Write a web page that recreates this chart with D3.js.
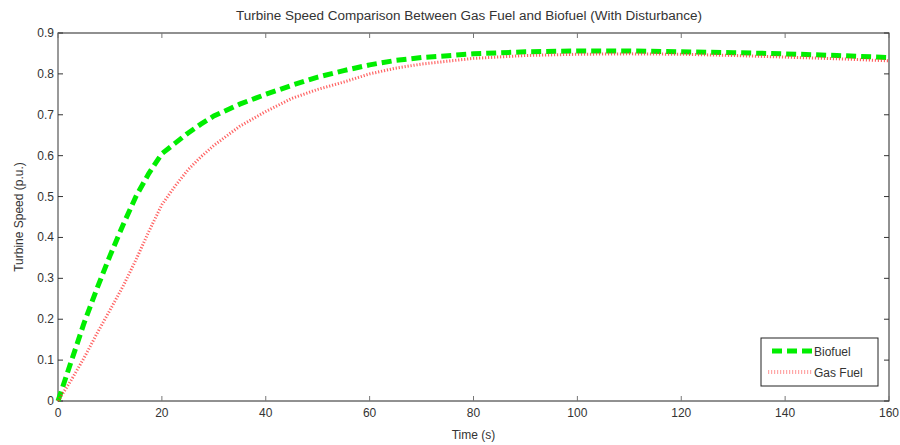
<!DOCTYPE html>
<html>
<head>
<meta charset="utf-8">
<script src="https://cdn.jsdelivr.net/npm/d3@7"></script>
<style>
  body { margin: 0; background: #fff; }
  text { font-family: "Liberation Sans", Arial, sans-serif; fill: #333; }
</style>
</head>
<body>
<div id="chart"></div>
<script>
// time points (s)
var time = [0, 2.5, 5, 7.5, 10, 12.5, 15, 17.5, 20, 22.5, 25, 27.5, 30, 35, 40, 45, 50, 55, 60, 65, 70, 80, 90, 100, 110, 120, 130, 140, 150, 160];
var biofuel = [0, 0.095, 0.19, 0.275, 0.355, 0.43, 0.5, 0.557, 0.605, 0.63, 0.655, 0.677, 0.697, 0.726, 0.75, 0.772, 0.792, 0.808, 0.822, 0.833, 0.84, 0.849, 0.854, 0.856, 0.856, 0.854, 0.852, 0.849, 0.845, 0.84];
var gasFuel = [0, 0.05, 0.105, 0.165, 0.222, 0.28, 0.345, 0.415, 0.48, 0.525, 0.565, 0.597, 0.625, 0.672, 0.708, 0.74, 0.762, 0.78, 0.8, 0.814, 0.824, 0.838, 0.845, 0.848, 0.849, 0.848, 0.845, 0.841, 0.837, 0.832];
var xTicks = [0, 20, 40, 60, 80, 100, 120, 140, 160];
var yTicks = [0, 0.1, 0.2, 0.3, 0.4, 0.5, 0.6, 0.7, 0.8, 0.9];

var width = 900, height = 445;
var margin = { top: 33, right: 11, bottom: 44, left: 58 };

var svg = d3.select("#chart").append("svg")
  .attr("width", width).attr("height", height);

var x = d3.scaleLinear().domain([0, 160]).range([margin.left, width - margin.right]);
var y = d3.scaleLinear().domain([0, 0.9]).range([height - margin.bottom, margin.top]);

// frame
svg.append("rect")
  .attr("x", x(0)).attr("y", y(0.9))
  .attr("width", x(160) - x(0)).attr("height", y(0) - y(0.9))
  .attr("fill", "#fff").attr("stroke", "#222").attr("stroke-width", 1);
svg.append("line")
  .attr("x1", x(0)).attr("x2", x(0)).attr("y1", y(0.9)).attr("y2", y(0))
  .attr("stroke", "#999").attr("stroke-width", 2);

// ticks inside on all sides
var tickLen = 5;
xTicks.forEach(function (t) {
  svg.append("line").attr("x1", x(t)).attr("x2", x(t))
    .attr("y1", y(0)).attr("y2", y(0) - tickLen).attr("stroke", "#777");
  svg.append("line").attr("x1", x(t)).attr("x2", x(t))
    .attr("y1", y(0.9)).attr("y2", y(0.9) + tickLen).attr("stroke", "#777");
  svg.append("text").attr("x", x(t)).attr("y", y(0) + 16)
    .attr("text-anchor", "middle").attr("font-size", "12px").text(t);
});
yTicks.forEach(function (v) {
  svg.append("line").attr("x1", x(0)).attr("x2", x(0) + tickLen)
    .attr("y1", y(v)).attr("y2", y(v)).attr("stroke", "#333");
  svg.append("line").attr("x1", x(160)).attr("x2", x(160) - tickLen)
    .attr("y1", y(v)).attr("y2", y(v)).attr("stroke", "#333");
  svg.append("text").attr("x", x(0) - 4).attr("y", y(v) + 4)
    .attr("text-anchor", "end").attr("font-size", "12px").text(v);
});

var line = d3.line().x(function (d) { return x(d[0]); }).y(function (d) { return y(d[1]); });

svg.append("path")
  .datum(d3.zip(time, biofuel))
  .attr("d", line)
  .attr("fill", "none").attr("stroke", "#00ee00")
  .attr("stroke-width", 5).attr("stroke-dasharray", "10,5");

svg.append("path")
  .datum(d3.zip(time, gasFuel))
  .attr("d", line)
  .attr("fill", "none").attr("stroke", "#ff3030").attr("stroke-opacity", 0.75)
  .attr("stroke-width", 3).attr("stroke-dasharray", "1.2,1.8");

// title and labels
svg.append("text").attr("x", 469).attr("y", 20).attr("text-anchor", "middle")
  .attr("font-size", "12px").attr("textLength", 466).attr("lengthAdjust", "spacingAndGlyphs")
  .text("Turbine Speed Comparison Between Gas Fuel and Biofuel (With Disturbance)");
svg.append("text").attr("x", x(80)).attr("y", 439).attr("text-anchor", "middle")
  .attr("font-size", "12px").text("Time (s)");
svg.append("text").attr("transform", "translate(23," + (y(0.45)) + ") rotate(-90)")
  .attr("text-anchor", "middle").attr("font-size", "12px").text("Turbine Speed (p.u.)");

// legend
var lg = svg.append("g");
lg.append("rect").attr("x", 761).attr("y", 338).attr("width", 117).attr("height", 48)
  .attr("fill", "#fff").attr("stroke", "#222");
lg.append("line").attr("x1", 772).attr("x2", 812).attr("y1", 351).attr("y2", 351)
  .attr("stroke", "#00ee00").attr("stroke-width", 5).attr("stroke-dasharray", "10,5");
lg.append("line").attr("x1", 768).attr("x2", 812).attr("y1", 372).attr("y2", 372)
  .attr("stroke", "#ff5050").attr("stroke-opacity", 0.5).attr("stroke-width", 4).attr("stroke-dasharray", "1.2,1.8");
lg.append("text").attr("x", 814).attr("y", 356).attr("font-size", "12px").text("Biofuel");
lg.append("text").attr("x", 814).attr("y", 377).attr("font-size", "12px").text("Gas Fuel");
</script>
</body>
</html>
